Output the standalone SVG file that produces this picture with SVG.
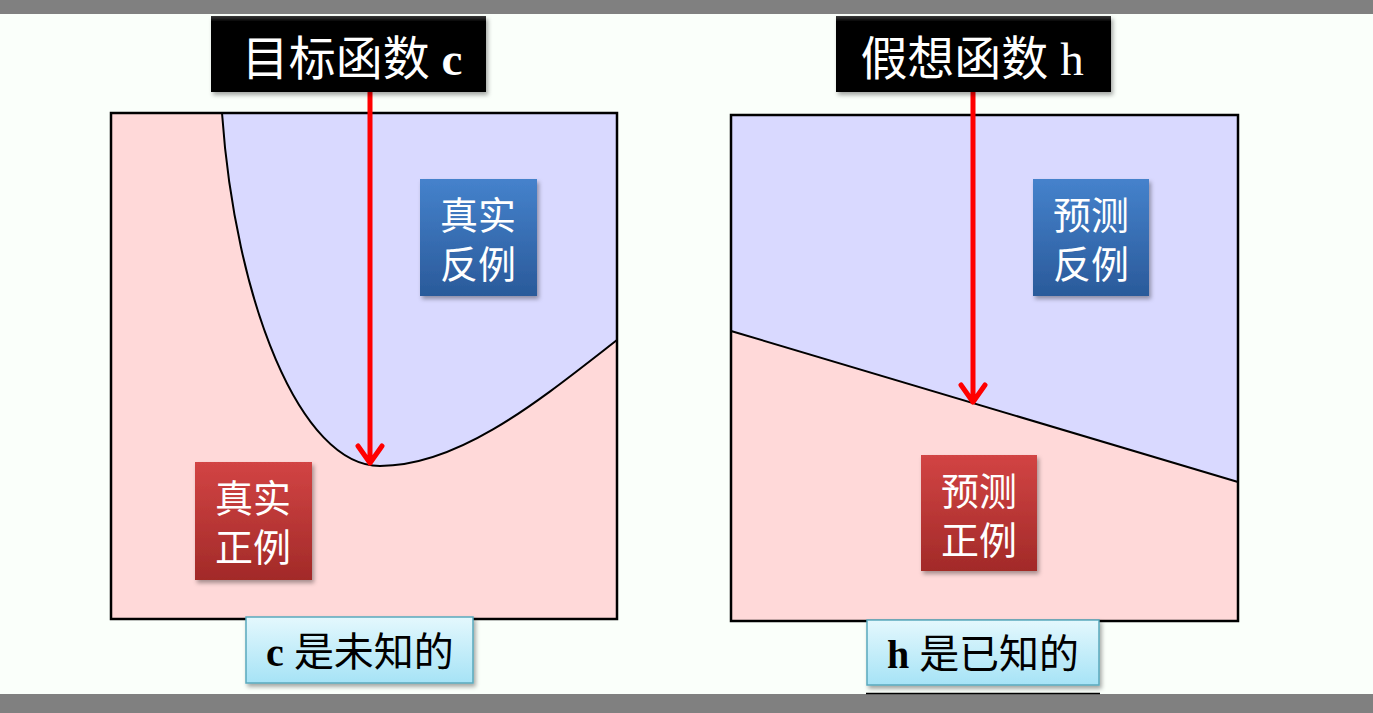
<svg xmlns="http://www.w3.org/2000/svg" width="1373" height="713" viewBox="0 0 1373 713">
<defs>
<style>
.frame{stroke:#000;stroke-width:2.5;fill:none}
.bnd{stroke:#000;stroke-width:2;fill:none}
.arrow{stroke:#f00;stroke-width:5;fill:none;stroke-linecap:round;stroke-linejoin:round}
.title{font-family:"Liberation Serif","Noto Sans CJK SC",serif;font-size:47px;fill:#fff;text-anchor:middle}
.tag{font-family:"Liberation Serif","Noto Sans CJK SC",serif;font-size:38px;fill:#fff;text-anchor:middle}
.note{font-family:"Liberation Serif","Noto Sans CJK SC",serif;font-size:40px;fill:#000;text-anchor:middle}
.lat{font-weight:bold}
</style>
<linearGradient id="gBlue" x1="0" y1="0" x2="0" y2="1"><stop offset="0" stop-color="#4582cc"/><stop offset="1" stop-color="#2a5a9a"/></linearGradient>
<linearGradient id="gRed" x1="0" y1="0" x2="0" y2="1"><stop offset="0" stop-color="#d24444"/><stop offset="1" stop-color="#a22a28"/></linearGradient>
<linearGradient id="gCyan" x1="0" y1="0" x2="0" y2="1"><stop offset="0" stop-color="#e4f8fd"/><stop offset="1" stop-color="#a6e3f6"/></linearGradient>
<linearGradient id="gBlack" x1="0" y1="0" x2="0" y2="1"><stop offset="0" stop-color="#3a3a3a"/><stop offset="0.08" stop-color="#000"/><stop offset="1" stop-color="#000"/></linearGradient>
<filter id="sh" x="-10%" y="-10%" width="130%" height="130%"><feDropShadow dx="2" dy="3" stdDeviation="2" flood-color="#000" flood-opacity="0.35"/></filter>
</defs>
<rect x="0" y="0" width="1373" height="713" fill="#fafffa"/>
<rect x="0" y="0" width="1373" height="14" fill="#808080"/>
<rect x="0" y="694" width="1373" height="19" fill="#808080"/>
<line x1="866" y1="693.5" x2="1100" y2="693.5" stroke="#000" stroke-width="1.5"/>

<g id="panel-left">
<rect x="111" y="113" width="506" height="506" fill="#ffd9d9"/>
<path d="M222,113 C235,300 300,466 380,466 C460,466 540,400 617,340 L617,113 Z" fill="#d9d9ff"/>
<path class="bnd" d="M222,113 C235,300 300,466 380,466 C460,466 540,400 617,340"/>
<rect class="frame" x="111" y="113" width="506" height="506"/>
</g>

<g id="panel-right">
<rect x="731" y="115" width="507" height="506" fill="#ffd9d9"/>
<path d="M731,331 L1238,482 L1238,115 L731,115 Z" fill="#d9d9ff"/>
<line class="bnd" x1="731" y1="331" x2="1238" y2="482"/>
<rect class="frame" x="731" y="115" width="507" height="506"/>
</g>

<g id="connectors">
<path class="arrow" d="M370,92 L370,463 M358,446 L370,463 L382,446"/>
<path class="arrow" d="M973,92 L973,402 M961,385 L973,402 L985,385"/>
</g>

<g id="title-c">
<rect x="211" y="16" width="275" height="76" fill="url(#gBlack)" filter="url(#sh)"/>
<text class="title" x="352" y="75">目标函数 <tspan class="lat">c</tspan></text>
</g>
<g id="title-h">
<rect x="836" y="16" width="275" height="76" fill="url(#gBlack)" filter="url(#sh)"/>
<text class="title" x="972" y="75">假想函数 <tspan>h</tspan></text>
</g>

<g id="true-neg">
<rect x="420" y="179" width="117" height="117" fill="url(#gBlue)" filter="url(#sh)"/>
<text class="tag" x="478" y="229">真实</text>
<text class="tag" x="478" y="278">反例</text>
</g>
<g id="true-pos">
<rect x="195" y="462" width="117" height="118" fill="url(#gRed)" filter="url(#sh)"/>
<text class="tag" x="253" y="512">真实</text>
<text class="tag" x="253" y="561">正例</text>
</g>
<g id="pred-neg">
<rect x="1033" y="179" width="116" height="117" fill="url(#gBlue)" filter="url(#sh)"/>
<text class="tag" x="1091" y="229">预测</text>
<text class="tag" x="1091" y="278">反例</text>
</g>
<g id="pred-pos">
<rect x="921" y="455" width="116" height="116" fill="url(#gRed)" filter="url(#sh)"/>
<text class="tag" x="979" y="505">预测</text>
<text class="tag" x="979" y="554">正例</text>
</g>

<g id="note-c">
<rect x="246" y="617" width="227" height="66" fill="url(#gCyan)" stroke="#5aa9bd" stroke-width="1.5" filter="url(#sh)"/>
<text class="note" x="360" y="666"><tspan class="lat">c</tspan> 是未知的</text>
</g>
<g id="note-h">
<rect x="867" y="620" width="232" height="65" fill="url(#gCyan)" stroke="#5aa9bd" stroke-width="1.5" filter="url(#sh)"/>
<text class="note" x="983" y="668"><tspan class="lat">h</tspan> 是已知的</text>
</g>
</svg>
